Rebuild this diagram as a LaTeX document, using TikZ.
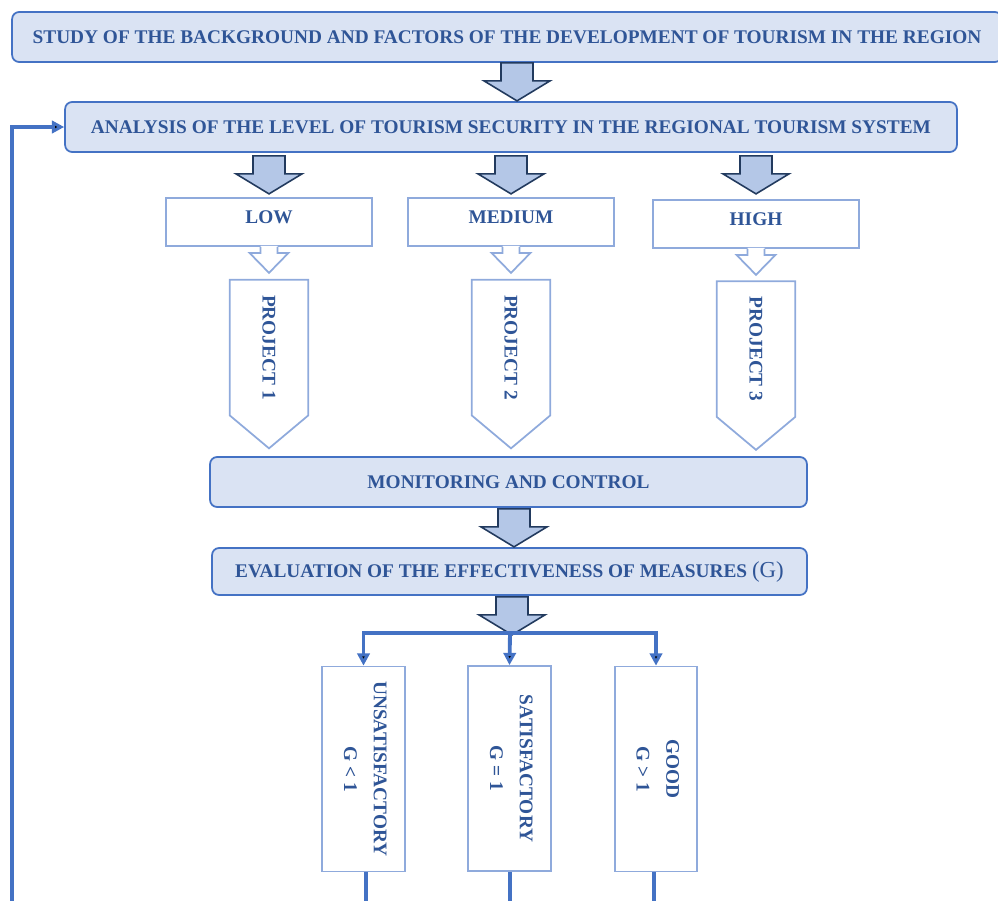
\documentclass[tikz,border=0pt]{standalone}
\usepackage{fontspec}
\setmainfont{Liberation Serif}
\usepackage{graphicx}
\usetikzlibrary{arrows.meta,calc,positioning}
\definecolor{boxfill}{HTML}{DAE3F3}
\definecolor{boxline}{HTML}{4472C4}
\definecolor{inkblue}{HTML}{2F5597}
\definecolor{paleline}{HTML}{8FAADC}
\definecolor{arrfill}{HTML}{B4C7E7}
\definecolor{arrline}{HTML}{223A5E}
\newcommand{\capfont}{\bfseries\fontsize{11}{13}\selectfont}
\tikzset{
  stage/.style={draw=boxline,fill=boxfill,rounded corners=4pt,line width=1pt,
    inner sep=0pt,minimum height=1cm,text=inkblue,font=\capfont},
  level/.style={draw=paleline,fill=white,line width=1pt,inner sep=0pt,
    minimum width=4.12cm,minimum height=0.96cm,text depth=6pt,text=inkblue,font=\capfont},
  proj/.style={inner sep=0pt,minimum width=1.56cm,minimum height=2.7cm,text=inkblue,font=\capfont},
  verdict/.style={draw=paleline,fill=white,line width=1pt,inner sep=0pt,
    minimum width=1.66cm,minimum height=4.1cm,text=inkblue,font=\capfont},
  conn/.style={draw=boxline,line width=2.2pt},
  hv/.style={to path={-| (\tikztotarget)}},
  vh/.style={to path={|- (\tikztotarget)}},
  bigarrow/.pic={
    \filldraw[fill=arrfill,draw=arrline,line width=0.9pt,line join=miter]
      (-16,0) -- (16,0) -- (16,18) -- (33,18) -- (0,38) -- (-33,18) -- (-16,18) -- cycle;},
  thinarrow/.pic={
    \fill[white] (-8.5,-1) -- (8.5,-1) -- (8.5,6) -- (19.5,6) -- (0,26) -- (-19.5,6) -- (-8.5,6) -- cycle;
    \draw[paleline,line width=1pt]
      (-8.5,0) -- (-8.5,6) -- (-19.5,6) -- (0,26) -- (19.5,6) -- (8.5,6) -- (8.5,0);}
}
\begin{document}
\begin{tikzpicture}[x=0.02cm,y=-0.02cm]
\clip (0,0) rectangle (998,900);
% main chain
\node[stage,minimum width=19.8cm] (study) at (507,37)
  {STUDY OF THE BACKGROUND AND FACTORS OF THE DEVELOPMENT OF TOURISM IN THE REGION};
\node[stage,minimum width=17.84cm] (analysis) at (511,127)
  {ANALYSIS OF THE LEVEL OF TOURISM SECURITY IN THE REGIONAL TOURISM SYSTEM};
\node[level] (low) at (269,222) {LOW};
\node[level] (medium) at (511,222) {MEDIUM};
\node[level] (high) at (756,224) {HIGH};
\node[proj] (p1) at (269,347.5) {\rotatebox{-90}{PROJECT 1}};
\node[proj] (p2) at (511,347.5) {\rotatebox{-90}{PROJECT 2}};
\node[proj] (p3) at (756,349) {\rotatebox{-90}{PROJECT 3}};
\node[stage,minimum width=11.94cm] (monitor) at (508.5,482) {MONITORING AND CONTROL};
\node[stage,minimum width=11.9cm,minimum height=0.94cm] (evaluation) at (509.5,571.5)
  {EVALUATION OF THE EFFECTIVENESS OF MEASURES {\mdseries\fontsize{13}{14}\selectfont(G)}};
\node[verdict] (unsat) at (363.5,769)
  {\rotatebox{-90}{\begin{tabular}{@{}c@{}}UNSATISFACTORY\\[4pt]G < 1\end{tabular}}};
\node[verdict] (sat) at (509.5,768.5)
  {\rotatebox{-90}{\begin{tabular}{@{}c@{}}SATISFACTORY\\[4pt]G = 1\end{tabular}}};
\node[verdict,minimum width=1.64cm] (good) at (656,769)
  {\rotatebox{-90}{\begin{tabular}{@{}c@{}}GOOD\\[4pt]G > 1\end{tabular}}};

% project pentagons
\draw[paleline,line width=1pt] (p1.north west) -- (p1.north east) -- (p1.south east)
  -- ($(p1.south)+(0,33)$) -- (p1.south west) -- cycle;
\draw[paleline,line width=1pt] (p2.north west) -- (p2.north east) -- (p2.south east)
  -- ($(p2.south)+(0,33)$) -- (p2.south west) -- cycle;
\draw[paleline,line width=1pt] (p3.north west) -- (p3.north east) -- (p3.south east)
  -- ($(p3.south)+(0,33)$) -- (p3.south west) -- cycle;

% block arrows
\pic at (study.south -| 517,0) {bigarrow};
\pic at ($(analysis.south -| low)+(0,3)$) {bigarrow};
\pic at ($(analysis.south -| medium)+(0,3)$) {bigarrow};
\pic at ($(analysis.south -| high)+(0,3)$) {bigarrow};
\pic at (low.south) {thinarrow};
\pic at (medium.south) {thinarrow};
\pic at (high.south) {thinarrow};
\pic at ($(monitor.south -| 514,0)+(0,1)$) {bigarrow};
\pic at ($(evaluation.south -| 512,0)+(0,1)$) {bigarrow};

% branches and feedback
\coordinate (split) at (510,633);
\coordinate (back) at (12,905);
\coordinate (u-end) at (366,905);
\coordinate (s-end) at (510,905);
\coordinate (g-end) at (654,905);
\path[conn,-{Triangle[length=7pt,width=7pt]}]
  (split) edge[hv] (unsat.north)
  (split) edge (sat.north)
  (split) edge[hv] (good.north)
  (back) edge[vh] (analysis.west);
\draw[conn] (unsat.south -| u-end) -- (u-end);
\draw[conn] (sat.south -| s-end) -- (s-end);
\draw[conn] (good.south -| g-end) -- (g-end);
\end{tikzpicture}
\end{document}
